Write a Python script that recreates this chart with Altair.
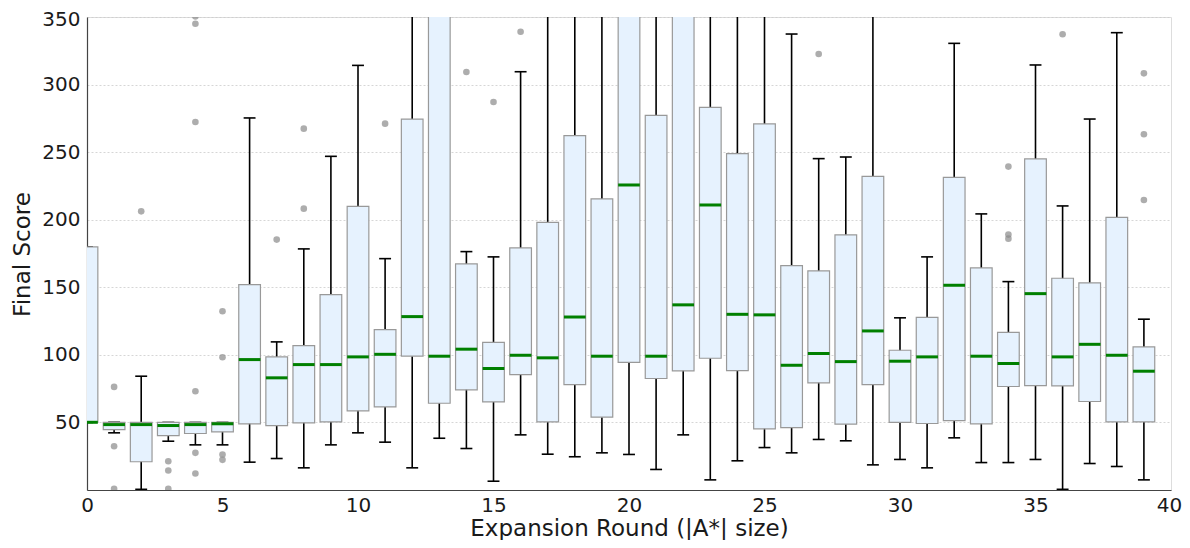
import altair as alt
import pandas as pd

rounds = list(range(40))
q1 = [50, 44.7, 20.9, 40.3, 41.8, 43, 49, 47.7, 49.7, 50.4,
      58.6, 61.5, 99, 64.2, 74.1, 65.2, 85.4, 50.4, 78, 53.9,
      94.5, 82.5, 88.2, 97.5, 88.4, 45.3, 46.2, 79.3, 48.7, 78,
      50.1, 49.2, 51.4, 49, 76.6, 77.3, 77, 65.5, 50.4, 50.4]
median = [50.1, 48.4, 48.4, 47.7, 48.4, 49, 96.5, 83, 92.8, 92.8,
          98.5, 100.4, 128.3, 99, 104.2, 89.9, 99.7, 97.8, 128, 99,
          225.7, 99, 137, 210.9, 130, 129.6, 92.3, 101, 95, 117.7,
          95.3, 98.5, 151.5, 99, 93.6, 145.3, 98.5, 107.8, 99.7, 87.9]
q3 = [179.9, 50.1, 50, 50, 50, 50, 152, 98.5, 106.9, 144.6,
      209.9, 118.7, 274.5, 420, 167.3, 109.3, 179.1, 198.1, 262.2, 215.4,
      400, 277.2, 410, 283.2, 248.9, 270.9, 166, 162.1, 188.8, 232.1,
      103.4, 127.8, 231.4, 164.3, 116.7, 245, 156.7, 153.3, 201.8, 105.9]
whisker_low = [50, 42.3, 0.5, 36.1, 33.4, 33.4, 20.6, 23.3, 16.4, 33.4,
               42.3, 35.4, 16.4, 38.3, 30.7, 6.5, 40.8, 26.5, 24.6, 27.5,
               26.3, 15.2, 40.8, 7.5, 21.6, 31.4, 27.5, 37.4, 36.4, 18.6,
               22.6, 16.4, 38.6, 20.3, 20.3, 22.6, 0.5, 19.6, 17.4, 7.5]
whisker_high = [179.9, 50.1, 84.2, 50, 50, 50, 275.3, 109.6, 178.4, 246.9,
                314.2, 171.2, 480, 600, 176.4, 172.5, 309.5, 450, 500, 420,
                600, 520, 620, 560, 470, 480, 337.4, 245.2, 246.4, 420,
                127.4, 172.5, 330.5, 204.3, 154.2, 314.5, 210.2, 274.5, 338.4, 126.4]

outlier_round = [1, 1, 1, 2, 3, 3, 3, 4, 4, 4, 4, 4, 4,
                 5, 5, 5, 5, 7, 8, 8, 11, 14, 15, 16, 27,
                 34, 34, 34, 36, 39, 39, 39]
outlier_value = [76.3, 32.4, 0.9, 206.2, 21.3, 14.4, 0.9, 73.1, 27.5, 12.2, 272.3, 345, 350.5,
                 132.3, 98.2, 26.3, 22.3, 185.3, 267.4, 208.2, 271.1, 309.3, 287.1, 339.1, 322.6,
                 239.3, 189, 186, 337.2, 308.3, 263.2, 214.6]

x_ticks = [0, 5, 10, 15, 20, 25, 30, 35, 40]
y_ticks = [50, 100, 150, 200, 250, 300, 350]

boxes = pd.DataFrame({
    "round": rounds, "q1": q1, "median": median, "q3": q3,
    "lo": whisker_low, "hi": whisker_high,
})
outliers = pd.DataFrame({"round": outlier_round, "value": outlier_value})

FONT = "DejaVu Sans"
TXT = "#1a1a1a"
xscale = alt.Scale(domain=[0, 40], nice=False, zero=False)
yscale = alt.Scale(domain=[0, 350], nice=False, zero=False)

xaxis = alt.Axis(values=x_ticks, title="Expansion Round (|A*| size)",
                 grid=False, ticks=False, labelPadding=5,
                 labelOffset={"condition": {"test": "datum.value == 40", "value": -2}, "value": 0},
                 titleY=45, titleBaseline="alphabetic",
                 labelFontSize=20, titleFontSize=23, labelFont=FONT, titleFont=FONT,
                 labelColor=TXT, titleColor=TXT, titleFontWeight="normal",
                 domainColor="#444444", domainWidth=1.2, labelFlush=False)
yaxis = alt.Axis(values=y_ticks, title="Final Score",
                 grid=True, gridDash=[2, 2], gridColor="#cccccc", gridWidth=0.8,
                 ticks=False, labelPadding=7,
                 labelOffset={"condition": {"test": "datum.value == 350", "value": 2}, "value": 0},
                 titleX=-65, titleY=237, titleBaseline="middle", titleAngle=270,
                 labelFontSize=20, titleFontSize=23, labelFont=FONT, titleFont=FONT,
                 labelColor=TXT, titleColor=TXT, titleFontWeight="normal",
                 domainColor="#444444", domainWidth=1.2, labelFlush=False)

base = alt.Chart(boxes).transform_calculate(
    xl="datum.round - 0.4", xr="datum.round + 0.4",
    cl="datum.round - 0.22", cr="datum.round + 0.22",
)

whisk = base.mark_rule(color="black", strokeWidth=1.6, clip=True).encode(
    x=alt.X("round:Q", scale=xscale, axis=xaxis),
    y=alt.Y("lo:Q", scale=yscale, axis=yaxis),
    y2="hi:Q",
)
cap_lo = base.mark_rule(color="black", strokeWidth=1.6, clip=True).encode(
    x=alt.X("cl:Q", scale=xscale), x2="cr:Q", y=alt.Y("lo:Q", scale=yscale))
cap_hi = base.mark_rule(color="black", strokeWidth=1.6, clip=True).encode(
    x=alt.X("cl:Q", scale=xscale), x2="cr:Q", y=alt.Y("hi:Q", scale=yscale))
box = base.mark_rect(fill="#e6f2fe", stroke="#999999", strokeWidth=1.2, clip=True).encode(
    x=alt.X("xl:Q", scale=xscale), x2="xr:Q",
    y=alt.Y("q1:Q", scale=yscale), y2="q3:Q",
)
med = base.mark_rule(color="#008000", strokeWidth=3, clip=True).encode(
    x=alt.X("xl:Q", scale=xscale), x2="xr:Q", y=alt.Y("median:Q", scale=yscale))
pts = alt.Chart(outliers).mark_circle(size=44, color="#8a8a8a", opacity=0.7, clip=True).encode(
    x=alt.X("round:Q", scale=xscale), y=alt.Y("value:Q", scale=yscale))

chart = alt.layer(whisk, cap_lo, cap_hi, box, med, pts).properties(
    width=1084, height=473,
    autosize=alt.AutoSizeParams(type="none"),
    padding={"left": 79, "top": 9, "right": 11, "bottom": 50},
).configure_view(stroke=None).configure(background="white")

chart.save("out.html", embed_options={"renderer": "svg", "actions": False})
